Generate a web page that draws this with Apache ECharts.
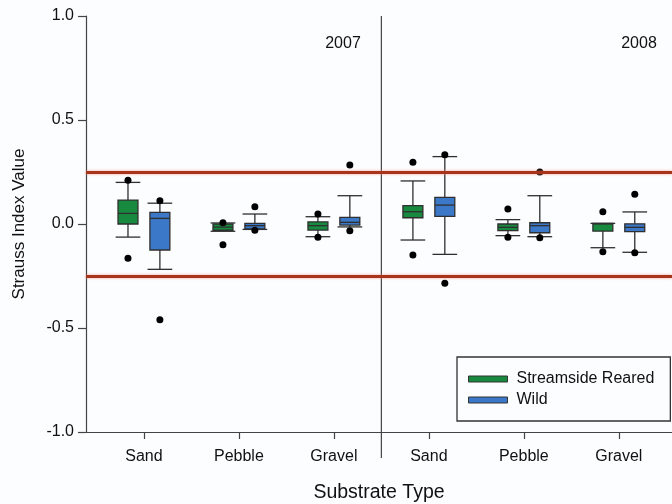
<!DOCTYPE html>
<html>
<head>
<meta charset="utf-8">
<script src="https://cdn.jsdelivr.net/npm/echarts@6/dist/echarts.min.js"></script>
<style>
  html, body { margin: 0; padding: 0; background: #fcfdff; }
  #chart { width: 672px; height: 504px; }
</style>
</head>
<body>
<div id="chart"></div>
<script>
// Substrate categories, two survey years side by side
const categories = ['Sand', 'Pebble', 'Gravel', 'Sand', 'Pebble', 'Gravel'];
const yearLabels = ['2007', '2008'];
const yTicks = [-1.0, -0.5, 0.0, 0.5, 1.0];
const thresholds = [0.25, -0.25];

// Box statistics per group: [min whisker, Q1, median, Q3, max whisker]
const rearedStats = [
  [-0.063, 0.000, 0.051, 0.115, 0.200],
  [-0.035, -0.030, -0.015, 0.000, 0.005],
  [-0.061, -0.029, -0.008, 0.010, 0.035],
  [-0.077, 0.030, 0.059, 0.088, 0.207],
  [-0.056, -0.032, -0.016, 0.000, 0.021],
  [-0.114, -0.034, 0.000, 0.003, 0.003]
];
const wildStats = [
  [-0.218, -0.125, 0.027, 0.056, 0.100],
  [-0.026, -0.024, -0.008, 0.003, 0.048],
  [-0.014, -0.005, 0.008, 0.032, 0.136],
  [-0.146, 0.037, 0.091, 0.128, 0.324],
  [-0.061, -0.042, -0.008, 0.006, 0.136],
  [-0.136, -0.037, -0.016, 0.001, 0.058]
];

// Outlying points: [group index, value]
const rearedOutliers = [
  [0, 0.210], [0, -0.165], [1, 0.006], [1, -0.100], [2, 0.048], [2, -0.064],
  [3, 0.297], [3, -0.149], [4, 0.072], [4, -0.064], [5, 0.059], [5, -0.133]
];
const wildOutliers = [
  [0, 0.112], [0, -0.460], [1, 0.083], [1, -0.030], [2, 0.284], [2, -0.032],
  [3, 0.333], [3, -0.285], [4, 0.250], [4, -0.066], [5, 0.143], [5, -0.138]
];

const GREEN = '#178a3f';
const BLUE = '#3b78c8';
const EDGE = '#2f2f2f';
const FONT = '"Liberation Sans", Arial, sans-serif';
const SHIFT = 0.168;      // horizontal shift of each group's pair of boxes (axis units)
const BOX_HALF = 0.105;
const CAP_HALF = 0.13;

function boxRenderer(shift, fill) {
  return function (params, api) {
    const g = api.value(0);
    const unit = api.size([1, 0])[0];
    const cx = api.coord([g, 0])[0] + shift * unit;
    const y = k => api.coord([g, api.value(k)])[1];
    const yMin = y(1), yQ1 = y(2), yMed = y(3), yQ3 = y(4), yMax = y(5);
    const bw = BOX_HALF * unit, cw = CAP_HALF * unit;
    const ln = (x1, y1, x2, y2) => ({
      type: 'line',
      shape: { x1, y1, x2, y2 },
      style: { stroke: EDGE, lineWidth: 1.3 }
    });
    return {
      type: 'group',
      children: [
        ln(cx, yQ3, cx, yMax),
        ln(cx, yQ1, cx, yMin),
        ln(cx - cw, yMax, cx + cw, yMax),
        ln(cx - cw, yMin, cx + cw, yMin),
        {
          type: 'rect',
          shape: { x: cx - bw, y: yQ3, width: 2 * bw, height: yQ1 - yQ3 },
          style: { fill, stroke: EDGE, lineWidth: 1.3 }
        },
        ln(cx - bw, yMed, cx + bw, yMed)
      ]
    };
  };
}

const shifted = (pts, s) => pts.map(p => [p[0] + s, p[1]]);
const withIndex = stats => stats.map((s, i) => [i].concat(s));

const chart = echarts.init(document.getElementById('chart'), null, { renderer: 'canvas' });

chart.setOption({
  backgroundColor: '#fcfdff',
  animation: false,
  textStyle: { fontFamily: FONT },
  grid: { left: 86, right: 0, top: 16, bottom: 72, containLabel: false, outerBoundsMode: 'none' },
  legend: {
    data: ['Streamside Reared', 'Wild'],
    orient: 'vertical',
    left: 457,
    top: 357,
    padding: [14, 16, 13, 11],
    itemGap: 5,
    itemWidth: 39,
    itemHeight: 6,
    icon: 'rect',
    borderColor: '#333',
    borderWidth: 1.3,
    itemStyle: { borderColor: '#333', borderWidth: 1 },
    textStyle: { fontFamily: FONT, fontSize: 16, color: '#111', lineHeight: 16, padding: [0, 0, 0, 4] }
  },
  xAxis: {
    type: 'value',
    min: -0.61,
    max: 5.56,
    name: 'Substrate Type',
    nameLocation: 'middle',
    nameGap: 51,
    nameTextStyle: { fontFamily: FONT, fontSize: 19.5, color: '#111' },
    splitLine: { show: false },
    axisLine: { show: true, onZero: false, lineStyle: { color: '#444', width: 1.2 } },
    axisTick: { show: true, length: 7, customValues: [0, 1, 2, 3, 4, 5], lineStyle: { color: '#444', width: 1.2 } },
    axisLabel: {
      customValues: [0, 1, 2, 3, 4, 5],
      formatter: v => categories[Math.round(v)],
      margin: 17,
      fontFamily: FONT,
      fontSize: 16,
      color: '#111'
    }
  },
  yAxis: {
    type: 'value',
    min: -1,
    max: 1,
    interval: 0.5,
    name: 'Strauss Index Value',
    nameLocation: 'middle',
    nameGap: 58,
    nameRotate: 90,
    nameTextStyle: { fontFamily: FONT, fontSize: 17, color: '#111' },
    splitLine: { show: false },
    axisLine: { show: true, onZero: false, lineStyle: { color: '#444', width: 1.2 } },
    axisTick: { show: true, length: 8, lineStyle: { color: '#444', width: 1.2 } },
    axisLabel: {
      margin: 12,
      fontFamily: FONT,
      fontSize: 16,
      color: '#111',
      formatter: v => (yTicks.indexOf(v) >= 0 ? v.toFixed(1) : '')
    }
  },
  graphic: [
    { type: 'text', x: 343, y: 44, style: { text: yearLabels[0], textAlign: 'center', textVerticalAlign: 'middle', font: '16px ' + FONT, fill: '#111' } },
    { type: 'text', x: 639, y: 44, style: { text: yearLabels[1], textAlign: 'center', textVerticalAlign: 'middle', font: '16px ' + FONT, fill: '#111' } }
  ],
  series: [
    {
      // year divider, running a little past the category axis
      type: 'custom',
      name: 'divider',
      silent: true,
      clip: false,
      data: [[2.5, 1]],
      encode: { x: 0, y: 1 },
      renderItem: function (params, api) {
        const top = api.coord([2.5, 1]);
        const bottom = api.coord([2.5, -1]);
        return {
          type: 'line',
          shape: { x1: top[0], y1: top[1], x2: bottom[0], y2: bottom[1] + 26 },
          style: { stroke: '#444', lineWidth: 1.2 }
        };
      },
      markLine: {
        silent: true,
        symbol: ['none', 'none'],
        label: { show: false },
        lineStyle: {
          color: '#a8341c',
          width: 3,
          type: 'solid',
          shadowColor: 'rgba(235,140,115,0.8)',
          shadowBlur: 3
        },
        data: thresholds.map(t => ({ yAxis: t }))
      }
    },
    {
      type: 'custom',
      name: 'Streamside Reared',
      color: GREEN,
      itemStyle: { color: GREEN },
      data: withIndex(rearedStats),
      encode: { x: 0, y: [1, 2, 3, 4, 5] },
      renderItem: boxRenderer(-SHIFT, GREEN)
    },
    {
      type: 'custom',
      name: 'Wild',
      color: BLUE,
      itemStyle: { color: BLUE },
      data: withIndex(wildStats),
      encode: { x: 0, y: [1, 2, 3, 4, 5] },
      renderItem: boxRenderer(SHIFT, BLUE)
    },
    {
      type: 'scatter',
      name: 'reared outliers',
      symbolSize: 7,
      itemStyle: { color: '#000', opacity: 1 },
      data: shifted(rearedOutliers, -SHIFT)
    },
    {
      type: 'scatter',
      name: 'wild outliers',
      symbolSize: 7,
      itemStyle: { color: '#000', opacity: 1 },
      data: shifted(wildOutliers, SHIFT)
    }
  ]
});
</script>
</body>
</html>
